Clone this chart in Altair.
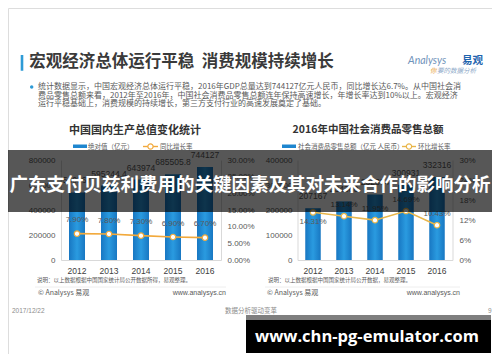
import altair as alt
import pandas as pd

# ---------------- data ----------------
years = ["2012", "2013", "2014", "2015", "2016"]
gdp_values = [540367, 595244.4, 643974, 685505.8, 744127]
gdp_growth = [7.90, 7.80, 7.30, 6.90, 6.70]
retail_values = [207167, 234380, 262394, 300931, 332316]
retail_growth = [14.31, 13.14, 11.95, 14.69, 10.43]

gdp_ticks = [0, 200000, 400000, 600000, 800000]
gdp_pct_ticks = [0, 5, 10, 15, 20, 25, 30]
retail_ticks = [0, 100000, 200000, 300000, 400000]
retail_pct_ticks = [0, 6, 12, 18, 24, 30]

page_title = "宏观经济总体运行平稳\u00a0\u00a0消费规模持续增长"
para_lines = [
    "统计数据显示，中国宏观经济总体运行平稳，2016年GDP总量达到744127亿元人民币，同比增长达6.7%。从中国社会消",
    "费品零售总额来看，2012年至2016年，中国社会消费品零售总额连年保持高速增长，年增长率达到10%以上。宏观经济",
    "运行平稳基础上，消费规模的持续增长，第三方支付行业的高速发展奠定了基础。",
]
left_title = "中国国内生产总值变化统计"
right_title = "2016年中国社会消费品零售总额"
left_legend = ["绝对值（亿元）", "同比增长率"]
right_legend = ["社会消费品零售总额（亿元 人民币）", "环比增长率"]
left_note = "说明：以上数据根据中国国家统计局公开数据所得，易观整理。"
right_note = "说明：以上数据根据中国国家统计局公开数据，易观整理。"
copyright_text = "© Analysys 易观"
site_text = "www.analysys.cn"
date_text = "2017/12/22"
footer_mid = "数据分析驱动变革"
page_no = "9"
banner_text = "广东支付贝兹利费用的关键因素及其对未来合作的影响分析"
watermark = "www.chn-pg-emulator.com"

gdp_df = pd.DataFrame({"year": years, "value": gdp_values, "growth": gdp_growth})
retail_df = pd.DataFrame({"year": years, "value": retail_values, "growth": retail_growth})

# ---------------- styles ----------------
W, H = 484, 346
CJK = "Noto Sans CJK SC"
NUM = "Liberation Sans"
GRAY = "#595959"
FRAME = "#D9D9D9"
ORANGE_L = "#F2A93B"
ORANGE_R = "#E9B64A"
Y_RANGE = [252, 152]
L_RANGE = [53, 213]
R_RANGE = [289.5, 444.5]

bar_fill = alt.Gradient(
    gradient="linear",
    stops=[alt.GradientStop(color="#1877C2", offset=0),
           alt.GradientStop(color="#2A9BE0", offset=0.5),
           alt.GradientStop(color="#1877C2", offset=1)],
    x1=0, x2=1, y1=0, y2=0,
)

ONE = alt.Data(values=[{"k": 0}])


def text_at(s, x, y, size, color=GRAY, weight="normal", align="left", font=CJK, style="normal"):
    return alt.Chart(ONE).mark_text(
        align=align, baseline="middle", fontSize=size, color=color,
        fontWeight=weight, font=font, fontStyle=style,
    ).encode(x=alt.value(x), y=alt.value(y), text=alt.value(s))


def rect_at(x, x2, y, y2, color, opacity=1.0):
    return alt.Chart(ONE).mark_rect(color=color, opacity=opacity).encode(
        x=alt.value(x), x2=alt.value(x2), y=alt.value(y), y2=alt.value(y2))


def rule_at(x, x2, y, y2, color, width=1.0):
    return alt.Chart(ONE).mark_rule(color=color, strokeWidth=width).encode(
        x=alt.value(x), x2=alt.value(x2), y=alt.value(y), y2=alt.value(y2))


def point_at(x, y, stroke):
    return alt.Chart(ONE).mark_point(
        shape="circle", filled=True, fill="white", stroke=stroke, strokeWidth=1.2,
        size=28, opacity=1).encode(x=alt.value(x), y=alt.value(y))


def axis_style(**kw):
    base = dict(grid=False, ticks=False, labelOverlap=False, labelFont=NUM,
                labelFontSize=8, labelColor=GRAY, domainColor=FRAME, title=None)
    base.update(kw)
    return alt.Axis(**base)


def panel(df, rng, ymax, yticks, pct_ticks, pct_expr, left_off, right_off,
          lpad, rpad, line_color, below_first):
    xband = alt.X("year:N", title=None,
                  scale=alt.Scale(type="band", domain=years, range=rng,
                                  paddingInner=0.5, paddingOuter=0.25),
                  axis=axis_style(orient="bottom", offset=-94, labelPadding=6,
                                  labelFontSize=8.5, labelColor="#404040", labelAngle=0))
    xpt = alt.X("year:N", title=None,
                scale=alt.Scale(type="point", domain=years, range=rng, padding=0.5),
                axis=None)
    yval_scale = alt.Scale(domain=[0, ymax], range=Y_RANGE, nice=False)
    ypct_scale = alt.Scale(domain=[0, 30], range=Y_RANGE, nice=False)

    bars = alt.Chart(df).mark_bar(color=bar_fill).encode(
        x=xband,
        y=alt.Y("value:Q", title=None, scale=yval_scale,
                axis=axis_style(orient="left", offset=left_off, values=yticks,
                                format="d", labelPadding=lpad)),
    )
    vlabels = alt.Chart(df).transform_calculate(lab="'' + datum.value").mark_text(
        fontSize=8.5, font=NUM, color=GRAY, baseline="middle", dy=-12,
    ).encode(x=xpt, y=alt.Y("value:Q", scale=yval_scale, axis=None), text="lab:N")

    line = alt.Chart(df).mark_line(color=line_color, strokeWidth=1.6).encode(
        x=xpt,
        y=alt.Y("growth:Q", title=None, scale=ypct_scale,
                axis=axis_style(orient="right", offset=right_off, values=pct_ticks,
                                labelExpr=pct_expr, labelPadding=rpad)),
    )
    pts = alt.Chart(df).mark_point(
        shape="circle", filled=True, fill="white", stroke=line_color,
        strokeWidth=1.2, size=30, opacity=1,
    ).encode(x=xpt, y=alt.Y("growth:Q", scale=ypct_scale, axis=None))

    glab_base = alt.Chart(df).transform_calculate(
        glab="format(datum.growth, '.2f') + '%'")
    if below_first:
        above = glab_base.transform_filter(alt.datum.year != years[0]).mark_text(
            fontSize=8, font=NUM, color=GRAY, baseline="middle", dy=-11,
        ).encode(x=xpt, y=alt.Y("growth:Q", scale=ypct_scale, axis=None), text="glab:N")
        below = glab_base.transform_filter(alt.datum.year == years[0]).mark_text(
            fontSize=8, font=NUM, color=GRAY, baseline="middle", dy=10,
        ).encode(x=xpt, y=alt.Y("growth:Q", scale=ypct_scale, axis=None), text="glab:N")
        glabs = [above, below]
    else:
        glabs = [glab_base.mark_text(
            fontSize=8, font=NUM, color=GRAY, baseline="middle", dy=-13.5,
        ).encode(x=xpt, y=alt.Y("growth:Q", scale=ypct_scale, axis=None), text="glab:N")]
    return [bars, vlabels, line, pts] + glabs


left_layers = panel(gdp_df, L_RANGE, 800000, gdp_ticks, gdp_pct_ticks,
                    "format(datum.value, '.2f') + '%'", -53, -(W - 213), 6, 6,
                    ORANGE_L, False)
right_layers = panel(retail_df, R_RANGE, 400000, retail_ticks, retail_pct_ticks,
                     "datum.value + '%'", -289.5, -(W - 444.5), 5.5, 6.5,
                     ORANGE_R, True)

static_top = [
    rect_at(12.7, 15.3, 47, 62.7, "#2E9BD6"),
    text_at(page_title, 21.3, 53.7, 16.5, color="#3A3A3A", weight="bold"),
    text_at("Analysys", 400, 52.5, 10.5, color="#6F93BA", font="Lato", style="italic"),
    text_at("易观", 454, 52.5, 10.5, color="#1F64AE", weight="bold"),
    text_at("你", 422, 63, 6.5, color="#E8A33A", style="italic"),
    text_at("要的数据分析", 429, 63, 6.5, color="#8EA9C8", style="italic"),
    point_at(23.7, 79, "#2E9BD6").mark_circle(color="#2E9BD6", size=12, opacity=1),
    text_at(para_lines[0], 30, 79, 8),
    text_at(para_lines[1], 30, 87.5, 8),
    text_at(para_lines[2], 30, 96, 8),
    text_at(left_title, 127, 123, 11, color="#333333", weight="bold", align="center"),
    text_at(right_title, 360, 122, 10.5, color="#333333", weight="bold", align="center"),
    rect_at(65, 79, 136.5, 140, "#1E86CF"),
    text_at(left_legend[0], 80, 138.5, 6.5),
    rule_at(135, 150, 138.5, 138.5, ORANGE_L, 1.4),
    point_at(142.5, 138.5, ORANGE_L),
    text_at(left_legend[1], 152, 138.5, 6.5),
    rect_at(274, 288, 136.5, 140, "#1E86CF"),
    text_at(right_legend[0], 290, 138.5, 6.5),
    rule_at(394, 408, 138.5, 138.5, ORANGE_R, 1.4),
    point_at(401, 138.5, ORANGE_R),
    text_at(right_legend[1], 410, 138.5, 6.5),
    text_at(left_note, 29, 272, 5.5),
    text_at(right_note, 260, 272, 5.5),
    rule_at(27, 218, 279, 279, "#EEEEEE"),
    rule_at(257, 452, 279, 279, "#EEEEEE"),
    text_at(copyright_text, 30, 285, 7),
    text_at(copyright_text, 259, 285, 7),
    text_at(site_text, 218, 285, 7, align="right", font=NUM),
    text_at(site_text, 452, 285, 7, align="right", font=NUM),
    text_at(date_text, 4, 303, 6.5, color="#8C8C8C", font=NUM),
    text_at(footer_mid, 217, 303, 6.5, color="#8C8C8C"),
    text_at(page_no, 480, 303, 6.5, color="#8C8C8C", font=NUM),
]

overlay = [
    rect_at(0, W, 142, 204, "#000000", 0.66),
    text_at(banner_text, 242, 177, 18.5, color="white", weight="bold", align="center"),
    rect_at(238, 483, 307, 312, "#7F7F7F"),
    rect_at(238, 483, 312, 345, "#000000"),
    text_at(watermark, 359, 328.5, 16.5, color="white", weight="bold",
            align="center", font="Open Sans"),
]

chart = alt.layer(*(static_top + left_layers + right_layers + overlay)).resolve_scale(
    x="independent", y="independent"
).properties(
    width=W, height=H, padding=0, background="white",
    autosize=alt.AutoSizeParams(type="none"),
).configure_view(stroke=None).configure(font=CJK)

chart.save("out.html", embed_options={"renderer": "svg", "actions": False})
